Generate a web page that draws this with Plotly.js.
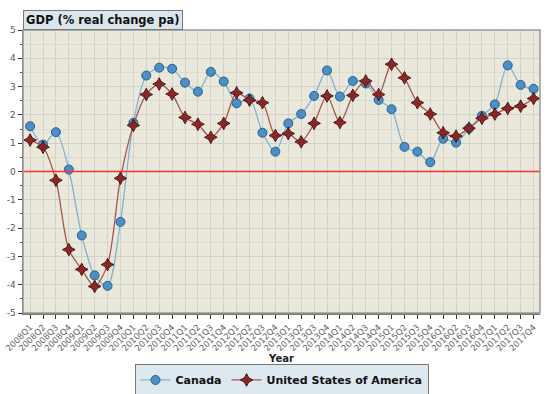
<!DOCTYPE html>
<html>
<head>
<meta charset="utf-8">
<script src="https://cdn.plot.ly/plotly-3.0.1.min.js"></script>
<style>html,body{margin:0;padding:0;background:#fff;}#chart{width:552px;height:394px;}</style>
</head>
<body>
<div id="chart"></div>
<script>
const quarters = ["2008Q1","2008Q2","2008Q3","2008Q4","2009Q1","2009Q2","2009Q3","2009Q4",
"2010Q1","2010Q2","2010Q3","2010Q4","2011Q1","2011Q2","2011Q3","2011Q4",
"2012Q1","2012Q2","2012Q3","2012Q4","2013Q1","2013Q2","2013Q3","2013Q4",
"2014Q1","2014Q2","2014Q3","2014Q4","2015Q1","2015Q2","2015Q3","2015Q4",
"2016Q1","2016Q2","2016Q3","2016Q4","2017Q1","2017Q2","2017Q3","2017Q4"];
const canada = [1.6,0.95,1.39,0.07,-2.26,-3.67,-4.04,-1.78,
1.72,3.39,3.67,3.63,3.14,2.82,3.52,3.18,
2.41,2.58,1.37,0.70,1.70,2.03,2.67,3.57,
2.65,3.20,3.11,2.53,2.20,0.87,0.70,0.33,
1.16,1.02,1.52,1.97,2.37,3.75,3.06,2.92];
const usa = [1.11,0.86,-0.31,-2.76,-3.46,-4.06,-3.29,-0.24,
1.63,2.72,3.09,2.74,1.91,1.67,1.21,1.70,
2.78,2.52,2.43,1.27,1.34,1.05,1.70,2.67,
1.73,2.69,3.20,2.72,3.79,3.31,2.43,2.03,
1.37,1.25,1.53,1.88,2.03,2.23,2.31,2.58];
const yTicks = [-5,-4,-3,-2,-1,0,1,2,3,4,5];
const titleText = "GDP (% real change pa)";
const xTitle = "Year";
const names = ["Canada","United States of America"];

const font = "DejaVu Sans, Verdana, sans-serif";
const traces = [
  {x: quarters, y: canada, name: names[0], type: "scatter", mode: "lines+markers",
   line: {color: "#7fb3d5", width: 1.3, shape: "spline", smoothing: 0.8},
   marker: {symbol: "circle", size: 9, color: "#4a8fc6", line: {color: "#2b5f8a", width: 1}}},
  {x: quarters, y: usa, name: names[1], type: "scatter", mode: "lines+markers",
   line: {color: "#a8544c", width: 1.3, shape: "spline", smoothing: 0.8},
   marker: {symbol: "star-diamond", size: 9, color: "#8a2626", line: {color: "#4a0e0e", width: 1}}}
];
const layout = {
  width: 552, height: 394,
  margin: {l: 23, r: 12, t: 30, b: 81, autoexpand: false},
  paper_bgcolor: "#ffffff",
  plot_bgcolor: "#e9e8da",
  font: {family: font, color: "#555"},
  showlegend: true,
  legend: {orientation: "h", x: 0.5, xanchor: "center", yref: "container", y: 0.075, yanchor: "top",
    bgcolor: "#dde8ef", bordercolor: "#777", borderwidth: 1, tracegroupgap: 0, itemwidth: 30,
    font: {family: font, size: 11, color: "#111", weight: "bold"}},
  xaxis: {
    type: "category", range: [-0.55, 39.5], automargin: false,
    tickangle: -45, tickfont: {size: 8.5, color: "#666"},
    showgrid: true, gridcolor: "#d2d1cb", gridwidth: 1,
    ticks: "outside", ticklen: 4, tickcolor: "#333",
    showline: true, linecolor: "#777", linewidth: 2, mirror: false,
    zeroline: false,
    title: {text: xTitle, font: {size: 10, color: "#222", weight: "bold"}, standoff: 0}
  },
  yaxis: {
    range: [-5, 5], tickvals: yTicks, ticktext: yTicks.map(String), automargin: false,
    tickfont: {size: 9, color: "#555"},
    showgrid: true, gridcolor: "#d2d1cb", gridwidth: 1,
    minor: {dtick: 0.5, showgrid: true, gridcolor: "#dddcd0", ticks: "outside", ticklen: 2, tickcolor: "#555"},
    ticks: "outside", ticklen: 4, tickcolor: "#333",
    showline: true, linecolor: "#555", linewidth: 1.5,
    zeroline: false
  },
  shapes: [
    {type: "line", xref: "paper", yref: "y", x0: 0, x1: 1, y0: 0, y1: 0, layer: "above",
     line: {color: "#ff3030", width: 1.5}},
    {type: "rect", xref: "paper", yref: "paper", x0: 0, x1: 1, y0: 0, y1: 1,
     line: {color: "#999", width: 1.5}, fillcolor: "rgba(0,0,0,0)"}
  ],
  annotations: [
    {text: "<b>" + titleText + "</b>", xref: "paper", yref: "paper", x: 0, y: 1,
     xanchor: "left", yanchor: "bottom", showarrow: false,
     font: {family: font, size: 11.5, color: "#111"},
     bgcolor: "#d9e6ee", bordercolor: "#777", borderwidth: 1, borderpad: 2}
  ]
};
Plotly.newPlot("chart", traces, layout, {displayModeBar: false, staticPlot: true});
</script>
</body>
</html>
